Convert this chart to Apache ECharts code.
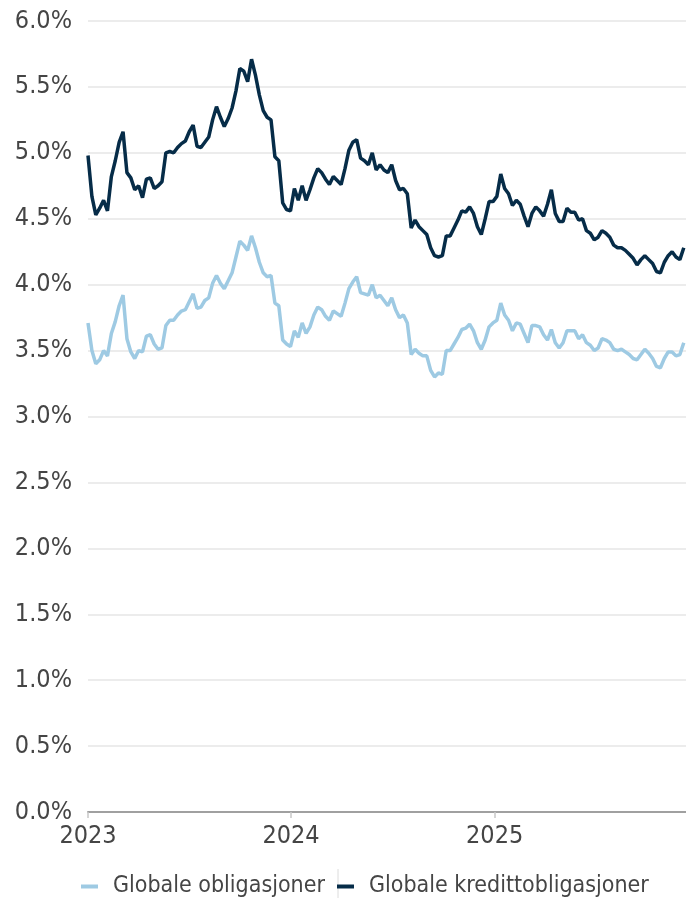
<!DOCTYPE html>
<html><head><meta charset="utf-8">
<script src="https://cdn.jsdelivr.net/npm/echarts@6/dist/echarts.min.js"></script>
<style>html,body{margin:0;padding:0;background:#fff}#c{width:686px;height:898px}</style>
</head><body><div id="c"></div>
<script>
// Weekly observations starting 2023-01-01
const startDate = '2023-01-01';
const stepDays = 7;
const seriesNames = ['Globale obligasjoner', 'Globale kredittobligasjoner'];

const obligasjoner = [
  3.71,3.50,3.40,3.43,3.50,3.46,3.63,3.72,3.84,3.92,
  3.59,3.49,3.44,3.50,3.49,3.61,3.62,3.55,3.51,3.52,
  3.69,3.73,3.73,3.77,3.80,3.81,3.87,3.93,3.82,3.83,
  3.88,3.90,4.01,4.07,4.01,3.97,4.03,4.09,4.21,4.33,
  4.30,4.26,4.37,4.28,4.17,4.09,4.06,4.07,3.86,3.84,
  3.58,3.55,3.53,3.65,3.60,3.71,3.63,3.68,3.77,3.83,
  3.81,3.76,3.73,3.80,3.78,3.76,3.86,3.97,4.02,4.06,
  3.94,3.93,3.92,4.00,3.90,3.92,3.88,3.84,3.90,3.81,
  3.75,3.77,3.71,3.47,3.51,3.48,3.46,3.46,3.35,3.30,
  3.33,3.32,3.50,3.50,3.55,3.60,3.66,3.67,3.70,3.65,
  3.56,3.51,3.58,3.68,3.71,3.73,3.86,3.77,3.73,3.65,
  3.71,3.70,3.63,3.56,3.69,3.69,3.68,3.62,3.58,3.66,
  3.56,3.52,3.56,3.65,3.65,3.65,3.59,3.62,3.56,3.54,
  3.50,3.52,3.59,3.58,3.56,3.51,3.50,3.51,3.49,3.47,
  3.44,3.43,3.47,3.51,3.48,3.44,3.38,3.37,3.44,3.49,
  3.49,3.46,3.47,3.56
];

const kredittobligasjoner = [
  4.98,4.67,4.53,4.58,4.64,4.56,4.82,4.94,5.08,5.16,
  4.85,4.81,4.72,4.75,4.66,4.80,4.81,4.73,4.75,4.78,
  5.00,5.01,5.00,5.04,5.07,5.09,5.16,5.21,5.05,5.04,
  5.08,5.12,5.25,5.35,5.27,5.20,5.26,5.34,5.47,5.64,
  5.62,5.54,5.71,5.59,5.44,5.32,5.27,5.25,4.97,4.94,
  4.62,4.57,4.56,4.73,4.64,4.75,4.64,4.72,4.81,4.88,
  4.85,4.80,4.76,4.82,4.79,4.76,4.88,5.02,5.08,5.10,
  4.96,4.94,4.91,5.00,4.87,4.91,4.87,4.85,4.91,4.79,
  4.72,4.73,4.69,4.43,4.49,4.44,4.41,4.38,4.28,4.22,
  4.21,4.22,4.37,4.37,4.43,4.49,4.56,4.55,4.59,4.54,
  4.44,4.38,4.50,4.63,4.63,4.67,4.84,4.73,4.69,4.60,
  4.64,4.61,4.52,4.44,4.54,4.59,4.56,4.52,4.61,4.72,
  4.54,4.48,4.48,4.58,4.55,4.55,4.49,4.50,4.41,4.39,
  4.34,4.36,4.41,4.39,4.36,4.30,4.28,4.28,4.26,4.23,
  4.20,4.15,4.19,4.22,4.19,4.16,4.10,4.09,4.17,4.22,
  4.25,4.21,4.19,4.28
];

const xMin = '2023-01-01';
const xMax = '2025-12-11';
const yMin = 0, yMax = 6, yStep = 0.5;

const colors = ['#9ecae3', '#062c48'];
const FONT = "'Liberation Sans Narrow', 'Arial Narrow', 'DejaVu Sans Condensed', sans-serif";

function dateAt(i) {
  const d = new Date(startDate + 'T00:00:00Z');
  d.setUTCDate(d.getUTCDate() + i * stepDays);
  return d.toISOString().slice(0, 10);
}
function toPairs(arr) { return arr.map((v, i) => [dateAt(i), v]); }

const chart = echarts.init(document.getElementById('c'), null, { renderer: 'canvas' });
chart.setOption({
  animation: false,
  backgroundColor: '#ffffff',
  grid: { left: 88, right: 0, top: 21, bottom: 86, containLabel: false },
  xAxis: {
    type: 'time',
    min: xMin, max: xMax,
    minInterval: 365 * 86400000,
    maxInterval: 366 * 86400000,
    axisLine: { show: true, lineStyle: { color: '#a0a0a0', width: 2 } },
    axisTick: { show: true, length: 6, lineStyle: { color: '#c8c8c8', width: 1.5 } },
    splitLine: { show: false },
    axisLabel: {
      color: '#454545', fontSize: 25, fontFamily: FONT, margin: 12,
      alignMinLabel: 'left',
      formatter: v => String(new Date(v).getUTCFullYear())
    }
  },
  yAxis: {
    type: 'value', min: yMin, max: yMax, interval: yStep,
    axisLine: { show: false }, axisTick: { show: false },
    splitLine: { lineStyle: { color: '#e6e6e6', width: 1.5 } },
    axisLabel: {
      color: '#454545', fontSize: 25, fontFamily: FONT, margin: 16,
      formatter: v => v.toFixed(1) + '%'
    }
  },
  legend: {
    left: 76, top: 870, width: 610,
    itemWidth: 17, itemHeight: 4, itemGap: 12,
    icon: 'rect',
    textStyle: { color: '#454545', fontSize: 23, fontFamily: FONT, padding: [0, 0, 0, 10] },
    data: seriesNames
  },
  graphic: [{
    type: 'line', shape: { x1: 338, y1: 869, x2: 338, y2: 898 },
    style: { stroke: '#dcdcdc', lineWidth: 1 }
  }],
  series: [
    { name: seriesNames[0], type: 'line', data: toPairs(obligasjoner), showSymbol: false, symbol: 'none',
      lineStyle: { color: colors[0], width: 3.5 }, itemStyle: { color: colors[0] } },
    { name: seriesNames[1], type: 'line', data: toPairs(kredittobligasjoner), showSymbol: false, symbol: 'none',
      lineStyle: { color: colors[1], width: 3.5 }, itemStyle: { color: colors[1] } }
  ]
});
</script></body></html>
